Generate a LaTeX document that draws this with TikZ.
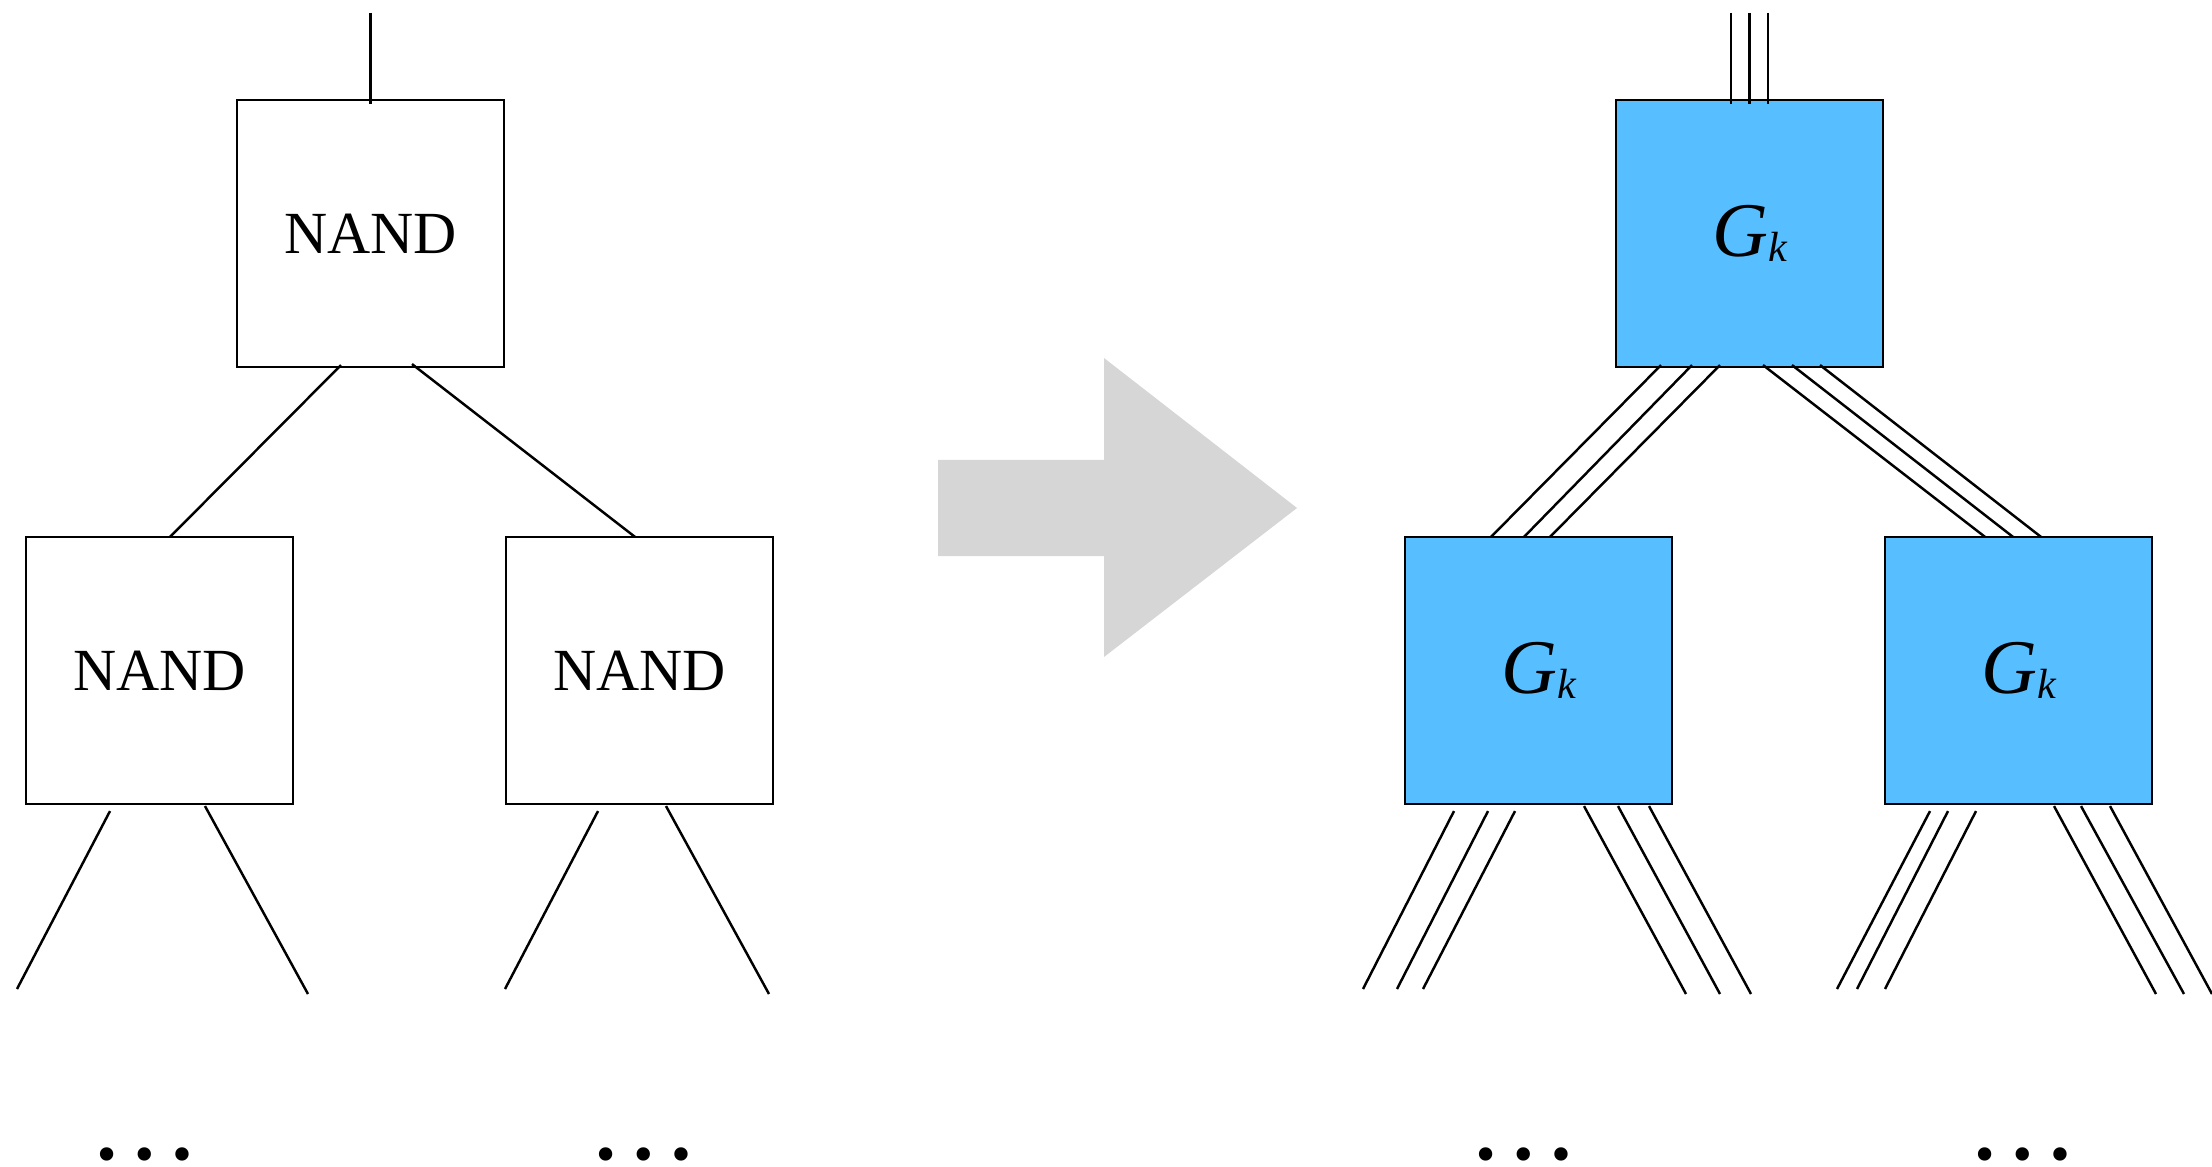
\documentclass[tikz,border=0pt]{standalone}
\usepackage{fontspec}
\setmainfont{Liberation Serif}
\usetikzlibrary{calc}
\definecolor{gblue}{HTML}{57BFFF}
\definecolor{agray}{HTML}{D6D6D6}
\newcommand\gklabel{{\fontsize{22}{26}\selectfont\itshape G}\raisebox{-0.05cm}{\fontsize{12}{14}\selectfont\itshape k}}
\begin{document}
\begin{tikzpicture}[x=0.01cm,y=-0.01cm,
  gate/.style={draw, line width=0.7pt, minimum width=2.67cm, minimum height=2.67cm, inner sep=0pt, outer sep=0pt},
  nandgate/.style={gate, fill=white, font=\fontsize{17}{20}\selectfont},
  ggate/.style={gate, fill=gblue},
  wire/.style={line width=0.7pt},
  dotsnode/.style={font=\fontsize{32}{36}\selectfont, inner sep=0pt, anchor=base}]
\useasboundingbox (0,0) rectangle (2212,1167);
% ---- left tree ----
\node[nandgate] (n0) at (370.5,233.5) {NAND};
\node[nandgate] (n1) at (159.5,670.5) {NAND};
\node[nandgate] (n2) at (639.5,670.5) {NAND};
\coordinate (n0in) at (370.5,13);
\draw[wire] (n0in) -- ($(n0.north)+(0,4)$);
\draw[wire] ($(n0.south)+(-29.5,-2)$) -- ($(n1.north)+(10.5,0)$);
\draw[wire] ($(n0.south)+(41.5,-3)$) -- ($(n2.north)+(-4.5,0)$);
\coordinate (n1a) at (17,989);
\coordinate (n1b) at (308,994);
\coordinate (n2a) at (505,989);
\coordinate (n2b) at (769,994);
\draw[wire] ($(n1.south)+(-49.5,7)$) -- (n1a);
\draw[wire] ($(n1.south)+(45.5,2)$) -- (n1b);
\draw[wire] ($(n2.south)+(-41.5,7)$) -- (n2a);
\draw[wire] ($(n2.south)+(26.5,2)$) -- (n2b);
\node[dotsnode] (d1) at (145,1159) {…};
\node[dotsnode] (d2) at (644,1159) {…};
% ---- arrow ----
\fill[agray] (938,460) -- (1104,460) -- (1104,358) -- (1297,508) -- (1104,657) -- (1104,556) -- (938,556) -- cycle;
% ---- right tree ----
\node[ggate] (g0) at (1749.5,233.5) {\gklabel};
\node[ggate] (g1) at (1538.5,670.5) {\gklabel};
\node[ggate] (g2) at (2018.5,670.5) {\gklabel};
\foreach \a [count=\i] in {-18.5,0,18.5} {
  \coordinate (g0in\i) at ($(g0.north)+(\a,-87)$);
  \draw[wire] (g0in\i) -- ($(g0.north)+(\a,4)$);
}
\foreach \a/\b in {-88.5/-47.5, -57.5/-14.5, -29.5/11.5}
  \draw[wire] ($(g0.south)+(\a,-2)$) -- ($(g1.north)+(\b,0)$);
\foreach \a/\b in {13.5/-33.5, 42.5/-5.5, 70.5/22.5}
  \draw[wire] ($(g0.south)+(\a,-2)$) -- ($(g2.north)+(\b,0)$);
\foreach \a/\x [count=\i] in {-84.5/1363, -50.5/1397, -23.5/1423} {
  \coordinate (g1l\i) at (\x,989);
  \draw[wire] ($(g1.south)+(\a,7)$) -- (g1l\i);
}
\foreach \a/\x [count=\i] in {45.5/1686, 79.5/1720, 110.5/1751} {
  \coordinate (g1r\i) at (\x,994);
  \draw[wire] ($(g1.south)+(\a,2)$) -- (g1r\i);
}
\foreach \a/\x [count=\i] in {-88.5/1837, -70.5/1857, -42.5/1885} {
  \coordinate (g2l\i) at (\x,989);
  \draw[wire] ($(g2.south)+(\a,7)$) -- (g2l\i);
}
\foreach \a/\x [count=\i] in {35.5/2156, 62.5/2184, 91.5/2212} {
  \coordinate (g2r\i) at (\x,994);
  \draw[wire] ($(g2.south)+(\a,2)$) -- (g2r\i);
}
\node[dotsnode] (d3) at (1524,1159) {…};
\node[dotsnode] (d4) at (2023,1159) {…};
\end{tikzpicture}
\end{document}
